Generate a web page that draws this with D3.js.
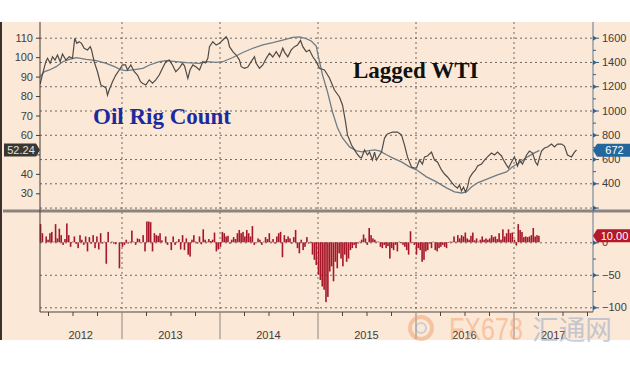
<!DOCTYPE html>
<html>
<head>
<meta charset="utf-8">
<script src="https://cdn.jsdelivr.net/npm/d3@7"></script>
<style>
  body { margin: 0; background: #fff; }
  svg { display: block; font-family: "Liberation Sans", Arial, sans-serif; }
</style>
</head>
<body>
<svg width="630" height="365"></svg>
<script>
// lagged WTI (left axis), decimal years
const wtiYears = [2012.170, 2012.194, 2012.228, 2012.245, 2012.272, 2012.296, 2012.321, 2012.347, 2012.374, 2012.398,
  2012.432, 2012.466, 2012.500, 2012.523, 2012.544, 2012.568, 2012.592, 2012.619, 2012.653, 2012.681,
  2012.694, 2012.721, 2012.755, 2012.789, 2012.823, 2012.842, 2012.857, 2012.874, 2012.908, 2012.942,
  2012.977, 2013.010, 2013.041, 2013.061, 2013.095, 2013.130, 2013.163, 2013.194, 2013.214, 2013.248,
  2013.283, 2013.316, 2013.350, 2013.385, 2013.418, 2013.452, 2013.487, 2013.520, 2013.554, 2013.589,
  2013.622, 2013.643, 2013.677, 2013.699, 2013.728, 2013.762, 2013.796, 2013.830, 2013.857, 2013.881,
  2013.898, 2013.932, 2013.966, 2014.000, 2014.034, 2014.068, 2014.087, 2014.102, 2014.136, 2014.170,
  2014.204, 2014.221, 2014.255, 2014.289, 2014.323, 2014.357, 2014.374, 2014.408, 2014.442, 2014.477,
  2014.510, 2014.544, 2014.579, 2014.612, 2014.646, 2014.663, 2014.697, 2014.732, 2014.765, 2014.796,
  2014.827, 2014.850, 2014.885, 2014.918, 2014.952, 2014.987, 2015.020, 2015.071, 2015.122, 2015.173,
  2015.224, 2015.255, 2015.286, 2015.306, 2015.347, 2015.398, 2015.429, 2015.449, 2015.480, 2015.510,
  2015.531, 2015.561, 2015.582, 2015.602, 2015.633, 2015.653, 2015.684, 2015.714, 2015.765, 2015.816,
  2015.857, 2015.888, 2015.918, 2015.959, 2015.990, 2016.010, 2016.041, 2016.071, 2016.092, 2016.122,
  2016.163, 2016.194, 2016.224, 2016.265, 2016.296, 2016.327, 2016.367, 2016.398, 2016.429, 2016.449,
  2016.469, 2016.490, 2016.510, 2016.531, 2016.551, 2016.582, 2016.612, 2016.633, 2016.673, 2016.704,
  2016.735, 2016.776, 2016.806, 2016.837, 2016.878, 2016.898, 2016.929, 2016.949, 2016.980, 2017.010,
  2017.041, 2017.061, 2017.092, 2017.133, 2017.163, 2017.194, 2017.224, 2017.245, 2017.265, 2017.286,
  2017.316, 2017.347, 2017.388, 2017.418, 2017.449, 2017.490, 2017.520, 2017.551, 2017.592, 2017.622,
  2017.643];
const wtiValues = [86.2, 91.3, 97.7, 99.4, 96.8, 100.2, 98.5, 101.1, 97.7, 101.6,
  98.5, 100.2, 99.4, 109.7, 107.1, 107.9, 107.1, 104.6, 103.7, 105.4,
  103.7, 97.7, 92.5, 85.7, 84.8, 84.1, 80.5, 83.1, 87.4, 90.8,
  93.4, 96.0, 96.0, 93.4, 96.0, 92.5, 90.8, 87.4, 86.6, 85.7,
  88.3, 86.6, 88.3, 90.8, 94.3, 97.7, 98.5, 96.0, 92.5, 94.3,
  96.8, 95.5, 89.1, 93.4, 96.0, 94.9, 93.4, 97.7, 97.0, 99.4,
  105.4, 107.9, 106.2, 107.1, 108.8, 110.5, 108.8, 105.4, 102.8, 101.1,
  98.5, 95.1, 94.3, 94.9, 97.7, 100.2, 96.8, 94.3, 96.0, 99.4,
  102.0, 100.1, 102.8, 100.1, 104.6, 102.6, 100.2, 103.7, 105.4, 106.2,
  108.6, 105.4, 102.8, 103.7, 100.2, 97.7, 94.3, 93.4, 89.3, 83.1,
  79.5, 75.4, 66.7, 60.0, 54.8, 50.7, 48.7, 48.2, 52.3, 49.7,
  51.2, 47.1, 51.2, 47.1, 49.7, 51.2, 58.4, 60.5, 61.5, 61.5,
  60.0, 54.8, 48.7, 43.5, 43.0, 43.0, 47.1, 45.0, 48.7, 49.2,
  51.2, 47.1, 46.1, 42.0, 39.9, 38.4, 35.8, 33.8, 32.7, 34.3,
  31.2, 33.2, 30.7, 33.2, 37.9, 40.4, 42.0, 44.0, 45.0, 47.1,
  48.7, 50.7, 49.7, 51.2, 49.2, 47.1, 44.5, 43.0, 46.1, 48.7,
  44.0, 47.1, 45.0, 49.7, 51.7, 50.7, 46.1, 44.5, 48.2, 51.7,
  53.3, 53.8, 55.3, 53.8, 55.3, 55.3, 54.3, 49.7, 48.7, 51.2,
  52.24];

// oil rig count (right axis)
const rigYears = [2012.170, 2012.214, 2012.265, 2012.334, 2012.401, 2012.469, 2012.538, 2012.640, 2012.742, 2012.844,
  2012.929, 2012.997, 2013.048, 2013.115, 2013.217, 2013.286, 2013.388, 2013.456, 2013.558, 2013.660,
  2013.796, 2013.864, 2013.966, 2014.034, 2014.136, 2014.238, 2014.340, 2014.442, 2014.544, 2014.646,
  2014.748, 2014.816, 2014.885, 2014.936, 2014.987, 2015.005, 2015.051, 2015.102, 2015.153, 2015.204,
  2015.255, 2015.327, 2015.398, 2015.459, 2015.510, 2015.582, 2015.633, 2015.704, 2015.765, 2015.857,
  2015.939, 2016.010, 2016.112, 2016.214, 2016.316, 2016.398, 2016.469, 2016.520, 2016.571, 2016.633,
  2016.735, 2016.837, 2016.929, 2016.990, 2017.061, 2017.143, 2017.214, 2017.265];
const rigValues = [1279, 1320, 1334, 1361, 1402, 1422, 1435, 1422, 1411, 1389,
  1361, 1334, 1328, 1334, 1348, 1375, 1402, 1411, 1402, 1394,
  1389, 1402, 1396, 1402, 1437, 1478, 1513, 1540, 1559, 1581,
  1602, 1606, 1593, 1573, 1532, 1458, 1293, 1153, 988, 857,
  774, 700, 667, 659, 667, 676, 667, 635, 609, 577,
  536, 511, 453, 412, 362, 329, 320, 329, 370, 404,
  437, 470, 494, 536, 569, 618, 651, 672];

// weekly change in rig count, one array per year
const bars2012 = [28, 14, 0, 9, 4, 14, 16, 1, 28, 6, 21, 11, -4, 5, 29, 11, -7, 1, 9, -2, -9, 11, 4, -4, 9, -14, 8, -2, 11, -9,
  9, -11, 14, -2, 1, -33, 16, 0, 1, -2, -3, 0, -40];
const bars2013 = [-7, -4, 4, -2, 1, 18, 1, -4, 6, 5, 0, 11, -14, 32, 32, 31, -14, 14, 11, 10, 14, 3, 0, 9, -4, 0, -12, 9, -4, 1,
  5, -11, 11, -12, 6, -19, -22, 4, 11, 1, -2, 9, -3, 20, 4, 1, 5, 2, 4, 15, -14, -11];
const bars2014 = [-7, 16, 14, 9, 10, -2, 4, 8, 5, 14, 19, 14, 16, 9, 19, 14, 9, 25, -4, 0, 6, 4, -4, 1, 8, 5, 14, 1, 5, -2,
  9, 14, 16, -23, 11, 5, 9, 6, -2, 8, 19, -9, -17, 4, -12, -7, 8, -2, 1, -19, -27, -35];
const bars2015 = [-50, -58, -68, -73, -92, -84, -45, -37, -60, -30, -40, -17, -25, -37, -19, -30, -25, -12, -9, -4,
  -9, -2, 1, 4, 12, 6, -4, 22, 11, 6, 4, 1, 1, -7, -9, -4, -9, -6, -25, -9, -12, -4, -14, 1, -1, -4, -7, -12, -19, 17, -1, -4];
const bars2016 = [-19, -9, -12, -30, -27, -14, -12, -2, -9, 1, -12, -14, -9, -7, -4, -7, -9, -1, 1, 1,
  9, 1, 11, 6, 11, 9, 15, 6, 4, 10, 15, 3, 6, 1, 4, 9, 4, 6, 4, 6, 11, 8, 9, 5, 14, 4, 20, 9, 14, 20, 14, 15];
const bars2017 = [4, -5, 28, 19, 16, 8, 9, 8, 9, 11, 22, 9, 11, 10];
const barStarts = [2012.174, 2013.010, 2014.010, 2015.010, 2016.010, 2017.010];

const leftTicks = [30, 40, 50, 60, 70, 80, 90, 100, 110];
const rightTicks = [400, 600, 800, 1000, 1200, 1400, 1600];
const changeTicks = [0, -50, -100];
const yearLabels = ['2012', '2013', '2014', '2015', '2016', '2017'];

const svg = d3.select('svg');
const W = 630;
const left = 40, right = 593;
const topY = 22, topBottom = 209, axisY = 312, footY = 340;

const x = d3.scaleLinear().domain([2013, 2017]).range([121.5, 513.5]);
const yL = d3.scaleLinear().domain([30, 110]).range([193.3, 37.7]);
const yR = d3.scaleLinear().domain([400, 1600]).range([183.3, 37.7]);
const yB = d3.scaleLinear().domain([-100, 0]).range([307.3, 242.3]);

const lastWti = wtiValues[wtiValues.length - 1];

// peach background and dark left edge
svg.append('rect').attr('x', 0).attr('y', topY).attr('width', W).attr('height', footY - topY).attr('fill', '#fce8d6');
svg.append('rect').attr('x', 0).attr('y', topY).attr('width', 2).attr('height', footY - topY).attr('fill', '#3b302a');

// dotted grid
const dotted = g => {
  g.select('.domain').remove();
  g.selectAll('line').attr('stroke', '#5f5a55').attr('stroke-dasharray', '2,3').attr('stroke-width', 0.9);
};
svg.append('g')
  .attr('transform', `translate(${left},0)`)
  .call(d3.axisRight(yR).tickValues([200].concat(rightTicks)).tickSize(right - left).tickFormat(''))
  .call(dotted);
svg.append('g')
  .attr('transform', `translate(${left},0)`)
  .call(d3.axisRight(yB).tickValues(changeTicks).tickSize(right - left).tickFormat(''))
  .call(dotted);
svg.append('g')
  .attr('transform', `translate(0,${topY})`)
  .call(d3.axisBottom(x).tickValues([2013, 2014, 2015, 2016, 2017]).tickSize(axisY - topY).tickFormat(''))
  .call(dotted);

// lines
svg.append('clipPath').attr('id', 'plot')
  .append('rect').attr('x', left).attr('y', topY).attr('width', right - left).attr('height', topBottom - topY);

const rigLine = d3.line().x(d => x(d[0])).y(d => yR(d[1]));
const wtiLine = d3.line().x(d => x(d[0])).y(d => yL(d[1]));

svg.append('path')
  .datum(d3.zip(rigYears, rigValues))
  .attr('clip-path', 'url(#plot)')
  .attr('fill', 'none').attr('stroke', '#6d7c85').attr('stroke-width', 1.3)
  .attr('d', rigLine);
svg.append('path')
  .datum(d3.zip(wtiYears, wtiValues))
  .attr('clip-path', 'url(#plot)')
  .attr('fill', 'none').attr('stroke', '#4e4b48').attr('stroke-width', 1.2)
  .attr('d', wtiLine);

// weekly change bars
const barSets = [bars2012, bars2013, bars2014, bars2015, bars2016, bars2017];
const bars = [];
barSets.forEach((set, k) => {
  set.forEach((v, i) => bars.push({ t: barStarts[k] + i * 7 / 365.25, v: v }));
});
svg.append('g').selectAll('rect')
  .data(bars)
  .enter()
  .append('rect')
  .attr('x', d => x(d.t) - 0.8)
  .attr('width', 1.6)
  .attr('y', d => yB(Math.max(0, d.v)))
  .attr('height', d => Math.abs(yB(d.v) - yB(0)))
  .attr('fill', '#a61729');

// panel separator
svg.append('rect').attr('x', 3).attr('y', 209.5).attr('width', W - 3).attr('height', 3).attr('fill', '#8b847e');

// left axis (the 50 label sits under the last-value flag)
svg.append('line').attr('x1', left).attr('x2', left).attr('y1', topY).attr('y2', axisY)
  .attr('stroke', '#3f3a36').attr('stroke-width', 1);
const la = svg.append('g')
  .attr('transform', `translate(${left},0)`)
  .call(d3.axisLeft(yL).tickValues(leftTicks).tickSize(4).tickPadding(3)
    .tickFormat(d => Math.abs(yL(d) - yL(lastWti)) < 8 ? '' : d));
la.select('.domain').remove();
la.selectAll('line').attr('stroke', '#3f3a36');
la.selectAll('text').attr('fill', '#3d3d3d').style('font-size', '11px');

// right axis
svg.append('line').attr('x1', right).attr('x2', right).attr('y1', topY).attr('y2', axisY)
  .attr('stroke', '#5e7a92').attr('stroke-width', 1);
const rightAxis = (scale, ticks, minors) => {
  const g = svg.append('g').attr('transform', `translate(${right},0)`);
  g.append('g')
    .call(d3.axisRight(scale).tickValues(minors).tickSize(3).tickFormat(''))
    .call(a => a.select('.domain').remove())
    .selectAll('line').attr('stroke', '#2d6390');
  const m = g.append('g')
    .call(d3.axisRight(scale).tickValues(ticks).tickSize(6).tickPadding(3).tickFormat(d3.format('d')));
  m.select('.domain').remove();
  m.selectAll('line').attr('stroke', '#2d6390');
  m.selectAll('.tick').append('path').attr('d', 'M0,-2.5L4,0L0,2.5Z').attr('fill', '#2d6390');
  m.selectAll('text').attr('fill', '#3d3d3d').style('font-size', '11px');
  return m;
};
rightAxis(yR, rightTicks, [500, 700, 900, 1100, 1300, 1500]);
rightAxis(yB, changeTicks, [-25, -75]);
svg.append('g')
  .attr('transform', `translate(${right},0)`)
  .call(d3.axisRight(yR).tickValues([200]).tickSize(6).tickFormat(''))
  .call(a => a.select('.domain').remove())
  .call(a => a.selectAll('line').attr('stroke', '#2d6390'))
  .call(a => a.selectAll('.tick').append('path').attr('d', 'M0,-2.5L4,0L0,2.5Z').attr('fill', '#2d6390'));

// time axis
svg.append('line').attr('x1', left).attr('x2', right).attr('y1', axisY).attr('y2', axisY)
  .attr('stroke', '#4a4440');
const quarters = [];
for (let yr = 2012; yr <= 2017; yr++) [0.25, 0.5, 0.75].forEach(q => { if (x(yr + q) > left && x(yr + q) < right) quarters.push(yr + q); });
svg.append('g')
  .attr('transform', `translate(0,${axisY})`)
  .call(d3.axisBottom(x).tickValues(quarters).tickSize(4).tickFormat(''))
  .call(a => a.select('.domain').remove())
  .selectAll('line').attr('stroke', '#4a4440');
svg.append('g')
  .attr('transform', `translate(0,${axisY})`)
  .call(d3.axisBottom(x).tickValues([2013, 2014, 2015, 2016, 2017]).tickSize(footY - axisY - 1).tickFormat(''))
  .call(a => a.select('.domain').remove())
  .selectAll('line').attr('stroke', '#8a8480');

svg.append('g').selectAll('text')
  .data(yearLabels)
  .enter()
  .append('text')
  .attr('x', d => (Math.max(left, x(+d)) + Math.min(right, x(+d + 1))) / 2)
  .attr('y', 339)
  .attr('text-anchor', 'middle')
  .attr('fill', '#3d3d3d')
  .style('font-size', '11px')
  .text(d => d);

// series titles
svg.append('text').attr('x', 353).attr('y', 78)
  .style('font-family', '"Liberation Serif", "Times New Roman", serif')
  .style('font-weight', 'bold').style('font-size', '23px')
  .attr('fill', '#111').text('Lagged WTI');
svg.append('text').attr('x', 93).attr('y', 124)
  .style('font-family', '"Liberation Serif", "Times New Roman", serif')
  .style('font-weight', 'bold').style('font-size', '23px')
  .attr('fill', '#1c2a9e').text('Oil Rig Count');

// last value flags
const flag = (side, cy, fill, label, textFill) => {
  const h = 13;
  const g = svg.append('g');
  if (side === 'left') {
    g.append('path')
      .attr('d', `M4,${cy - h / 2}H36L40,${cy}L36,${cy + h / 2}H4Z`)
      .attr('fill', fill);
    g.append('text').attr('x', 21).attr('y', cy + 4).attr('text-anchor', 'middle')
      .attr('fill', textFill).style('font-size', '11px').text(label);
  } else {
    g.append('path')
      .attr('d', `M${W},${cy - h / 2}H${right + 4}L${right},${cy}L${right + 4},${cy + h / 2}H${W}Z`)
      .attr('fill', fill);
    g.append('text').attr('x', (right + 4 + W) / 2 + 1).attr('y', cy + 4).attr('text-anchor', 'middle')
      .attr('fill', textFill).style('font-size', '11px').text(label);
  }
};
flag('left', yL(lastWti), '#3a3634', '52.24', '#e6e2de');
flag('right', yR(rigValues[rigValues.length - 1]), '#24679d', '672', '#ffffff');
flag('right', yB(bars2017[bars2017.length - 1]), '#b3182c', '10.00', '#ffffff');

// watermark
const wm = svg.append('g').attr('opacity', 0.5);
wm.append('circle').attr('cx', 421).attr('cy', 328).attr('r', 11)
  .attr('fill', 'none').attr('stroke', '#f0a070').attr('stroke-width', 4);
wm.append('circle').attr('cx', 421).attr('cy', 328).attr('r', 5)
  .attr('fill', 'none').attr('stroke', '#9fb4d0').attr('stroke-width', 2);
wm.append('text').attr('x', 449).attr('y', 340)
  .attr('textLength', 74).attr('lengthAdjust', 'spacingAndGlyphs')
  .style('font-size', '31px').attr('fill', '#f4a070').text('FX678');
wm.append('text').attr('x', 532).attr('y', 340)
  .attr('textLength', 80).attr('lengthAdjust', 'spacingAndGlyphs')
  .style('font-family', '"Noto Sans CJK SC", sans-serif')
  .style('font-size', '27px').attr('fill', '#8ea4c4').text('汇通网');
</script>
</body>
</html>
